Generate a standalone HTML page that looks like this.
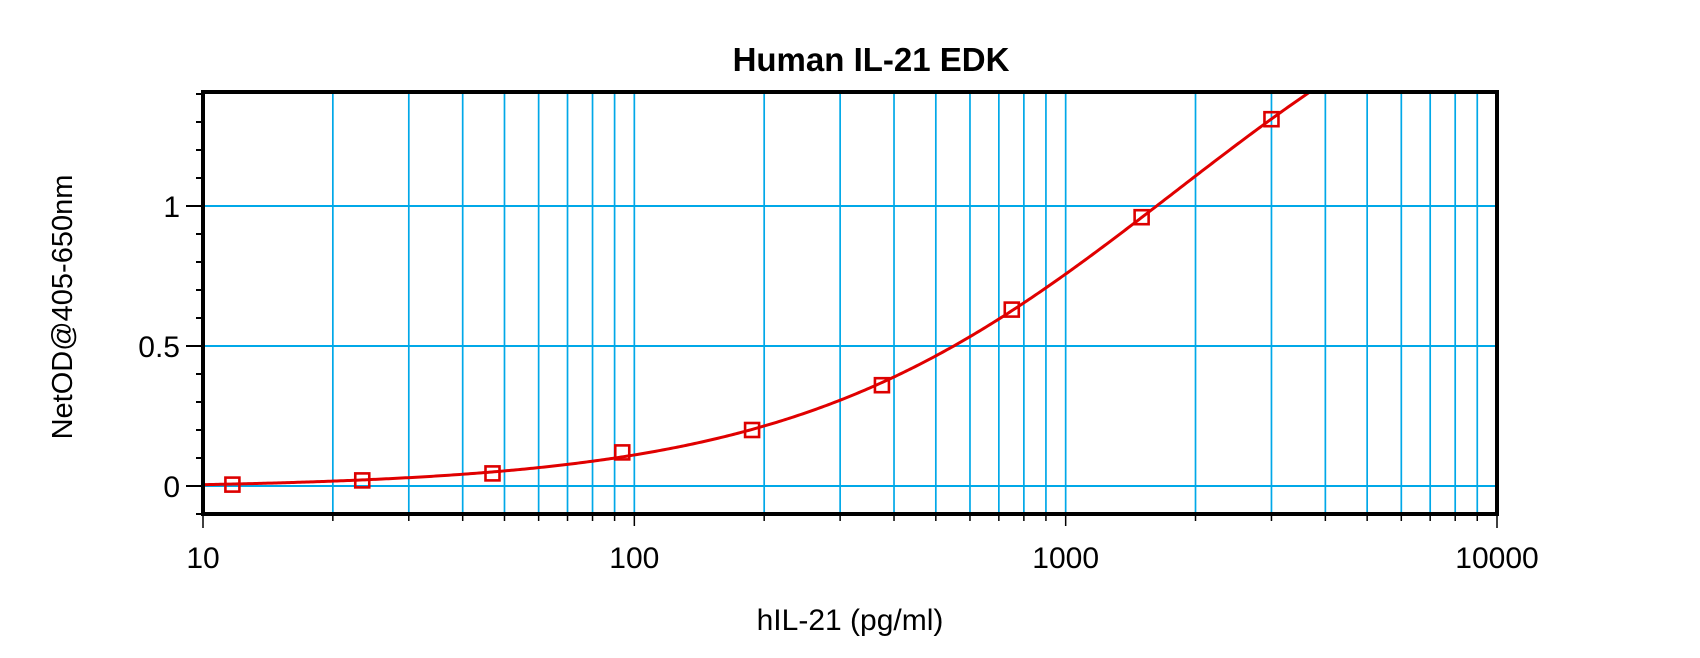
<!DOCTYPE html>
<html><head><meta charset="utf-8"><style>
html,body{margin:0;padding:0;background:#fff;}
svg{display:block;font-family:"Liberation Sans",Arial,sans-serif;}
</style></head><body>
<svg id="chart" width="1700" height="658" viewBox="0 0 1700 658" style="position:absolute;left:0;top:0"></svg>
<script>
const concentrations = [11.7, 23.4, 46.9, 93.75, 187.5, 375, 750, 1500, 3000];
const netOD = [0.005, 0.02, 0.045, 0.12, 0.2, 0.36, 0.63, 0.96, 1.31];
const xTickLabels = ["10", "100", "1000", "10000"];
const xTickValues = [10, 100, 1000, 10000];
const yTickLabels = ["0", "0.5", "1"];
const yTickValues = [0, 0.5, 1];

const L = 203, R = 1497, T = 92, B = 514;
const xMin = 1, xMax = 4;
const X = v => L + (Math.log10(v) - xMin) / (xMax - xMin) * (R - L);
const Y = v => 486 - v * 280;
const svg = document.getElementById('chart');
const NS = 'http://www.w3.org/2000/svg';
function mk(tag, attrs, parent) {
  const e = document.createElementNS(NS, tag);
  for (const k in attrs) e.setAttribute(k, attrs[k]);
  (parent || svg).appendChild(e);
  return e;
}
const grid = mk('g', {});


for (let d = 1; d < 4; d++) {
  for (let m = 1; m <= 9; m++) {
    const v = m * Math.pow(10, d);
    const x = X(v);
    if (d === 1 && m === 1) continue;
    const gl = mk('line', {x1: x, x2: x, y1: T, y2: B, stroke: '#00a8e8', 'stroke-width': 1.7}, grid);
    
    
    mk('line', {x1: x, x2: x, y1: B, y2: B + (m === 1 ? 12 : 7), stroke: '#000', 'stroke-width': 1.5});
  }
}
mk('line', {x1: R, x2: R, y1: B, y2: B + 14, stroke: '#000', 'stroke-width': 1.5});
mk('line', {x1: L, x2: L, y1: B, y2: B + 14, stroke: '#000', 'stroke-width': 1.5});
yTickValues.forEach(v => {
  const gl = mk('line', {x1: L, x2: R, y1: Y(v), y2: Y(v), stroke: '#00a8e8', 'stroke-width': 2}, grid);
  
  
  mk('line', {x1: L - 17, x2: L, y1: Y(v), y2: Y(v), stroke: '#000', 'stroke-width': 2});
});
for (let i = -1; i <= 14; i++) {
  const v = i / 10;
  mk('line', {x1: L - 7, x2: L, y1: Y(v), y2: Y(v), stroke: '#000', 'stroke-width': 2});
}
function f4(p, x) { return p[3] + (p[0] - p[3]) / (1 + Math.pow(x / p[2], p[1])); }
function sse(p) { let s = 0; concentrations.forEach((c, i) => { const e = f4(p, c) - netOD[i]; s += e * e; }); return s; }
let P = [0, 1.3, 3000, 3];
let steps = [0.01, 0.1, 500, 0.5];
for (let it = 0; it < 4000; it++) {
  let improved = false;
  for (let k = 0; k < 4; k++) {
    for (const sgn of [1, -1]) {
      const q = P.slice(); q[k] += sgn * steps[k];
      if (q[2] <= 1 || q[1] <= 0.1) continue;
      if (sse(q) < sse(P)) { P = q; improved = true; }
    }
  }
  if (!improved) steps = steps.map(s => s * 0.6);
}
let d = '';
for (let i = 0; i <= 600; i++) {
  const lx = xMin + i / 600 * (xMax - xMin);
  const yv = f4(P, Math.pow(10, lx));
  const yy = Y(yv);
  if (yy < T) { break; }
  d += (i ? ' L ' : 'M ') + X(Math.pow(10, lx)).toFixed(2) + ' ' + yy.toFixed(2);
}
const curve = mk('path', {d: d, fill: 'none', stroke: '#e00000', 'stroke-width': 3});


concentrations.forEach((c, i) => {
  const r = mk('rect', {x: X(c) - 7, y: Y(netOD[i]) - 7, width: 14, height: 14, fill: 'none', stroke: '#dd0000', 'stroke-width': 2.6});
  
  
});
const frame = mk('rect', {x: L, y: T, width: R - L, height: B - T, fill: 'none', stroke: '#000', 'stroke-width': 4});


xTickValues.forEach((v, i) => {
  const t = mk('text', {x: X(v), y: 568, 'text-anchor': 'middle', 'font-size': 30});
  t.textContent = xTickLabels[i];
  
  
});
yTickValues.forEach((v, i) => {
  const t = mk('text', {x: 180, y: Y(v) + 11, 'text-anchor': 'end', 'font-size': 30});
  t.textContent = yTickLabels[i];
  
  
});
</script>
<svg width="1700" height="658" style="position:absolute;left:0;top:0;pointer-events:none">
<text x="871" y="71" text-anchor="middle" font-size="33" font-weight="bold">Human IL-21 EDK</text>
<text x="850" y="630" text-anchor="middle" font-size="30">hIL-21 (pg/ml)</text>
<text x="0" y="0" transform="translate(72,307) rotate(-90)" text-anchor="middle" font-size="29">NetOD@405-650nm</text>
</svg>
</body></html>
